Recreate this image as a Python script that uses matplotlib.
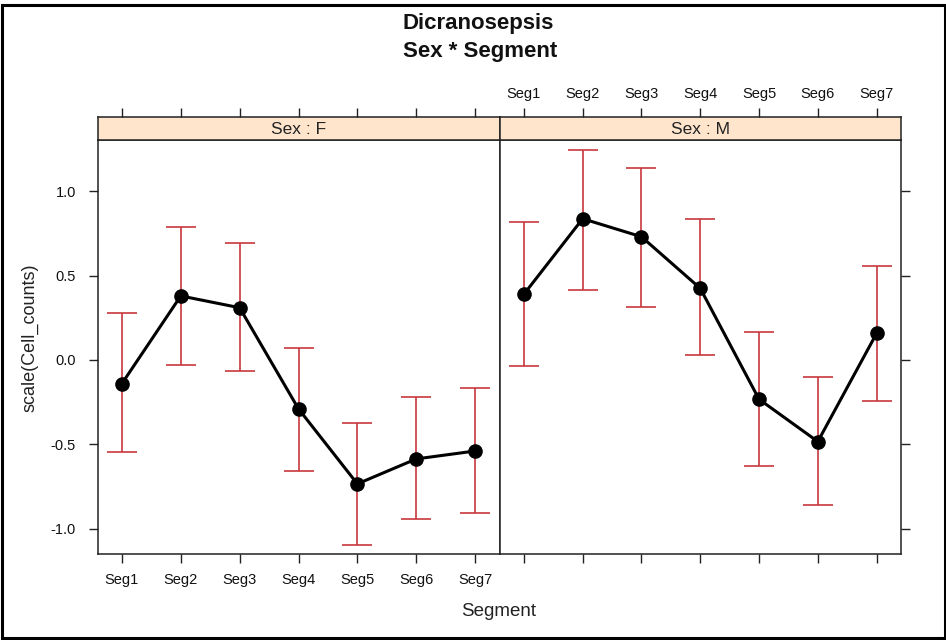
import matplotlib
matplotlib.use('Agg')
import matplotlib.pyplot as plt
from matplotlib.patches import Rectangle

plt.rcParams['font.family'] = ['Liberation Sans', 'DejaVu Sans']

# effect estimates with lower / upper confidence limits, per sex
segments = ['Seg1', 'Seg2', 'Seg3', 'Seg4', 'Seg5', 'Seg6', 'Seg7']
fit_F = [-0.14, 0.38, 0.31, -0.29, -0.735, -0.587, -0.54]
lower_F = [-0.548, -0.03, -0.063, -0.658, -1.097, -0.945, -0.909]
upper_F = [0.279, 0.787, 0.696, 0.073, -0.372, -0.221, -0.166]
fit_M = [0.39, 0.838, 0.731, 0.425, -0.233, -0.484, 0.158]
lower_M = [-0.038, 0.417, 0.314, 0.028, -0.631, -0.862, -0.241]
upper_M = [0.817, 1.244, 1.141, 0.834, 0.166, -0.103, 0.556]
yticks = [-1.0, -0.5, 0.0, 0.5, 1.0]

W, H = 946, 640
fig = plt.figure(figsize=(W / 100, H / 100), dpi=100)


def px_axes(x0, y0, x1, y1):
    return fig.add_axes([x0 / W, 1 - y1 / H, (x1 - x0) / W, (y1 - y0) / H])


AX_COL = '#222222'
CI_COL = '#C8373C'
xpos = list(range(1, len(segments) + 1))
XLIM = (0.585, 7.415)
YLIM = (-1.151, 1.305)

panels = [
    ('F', fit_F, lower_F, upper_F, 97.5, 499.5),
    ('M', fit_M, lower_M, upper_M, 499.5, 901),
]

for i, (sex, fit, lo, hi, x0, x1) in enumerate(panels):
    ax = px_axes(x0, 140, x1, 554)
    err = [[f - l for f, l in zip(fit, lo)], [h - f for f, h in zip(fit, hi)]]
    ax.errorbar(xpos, fit, yerr=err, fmt='none', ecolor=CI_COL,
                elinewidth=1.2, capsize=10.5, capthick=1.2, zorder=2)
    ax.plot(xpos, fit, color='black', lw=2.2, marker='o', ms=9.5, zorder=3)
    ax.set_xlim(*XLIM)
    ax.set_ylim(*YLIM)
    ax.set_xticks(xpos)
    ax.set_yticks(yticks)
    for s in ax.spines.values():
        s.set_color(AX_COL)
        s.set_linewidth(1.1)
    ax.tick_params(direction='out', length=6.5, width=1, color=AX_COL,
                   labelsize=10.5, pad=7, labelcolor='#111111')
    if i == 0:
        ax.set_xticklabels(segments)
        ax.set_yticklabels([f'{v:.1f}' for v in yticks])
        ax.tick_params(axis='y', left=True, right=False, pad=9)
    else:
        ax.set_xticklabels([])
        ax.yaxis.tick_right()
        ax.set_yticklabels([])

    # strip with the panel label and the top tick marks
    st = px_axes(x0, 117, x1, 140)
    st.add_patch(Rectangle((0, 0), 1, 1, transform=st.transAxes,
                           facecolor='#FFE5CC', edgecolor='none'))
    st.set_xlim(*XLIM)
    st.set_ylim(0, 1)
    st.set_yticks([])
    st.xaxis.tick_top()
    st.set_xticks(xpos)
    st.tick_params(direction='out', length=6.5, width=1, color=AX_COL,
                   labelsize=10.5, pad=5, labelcolor='#111111')
    st.set_xticklabels(segments if i == 1 else [])
    for s in st.spines.values():
        s.set_color(AX_COL)
        s.set_linewidth(1.1)
    st.text(0.5, 0.45, f'Sex : {sex}', transform=st.transAxes,
            ha='center', va='center', fontsize=12.5, color='#222222')

fig.text(478 / W, 1 - 24 / H, 'Dicranosepsis', ha='center', va='center',
         fontsize=16, fontweight='bold', color='#111111')
fig.text(480 / W, 1 - 51 / H, 'Sex * Segment', ha='center', va='center',
         fontsize=16, fontweight='bold', color='#111111')
fig.text(499 / W, 1 - 612 / H, 'Segment', ha='center', va='center',
         fontsize=13.5, color='#222222')
fig.text(30 / W, 1 - 338 / H, 'scale(Cell_counts)', ha='center',
         va='center', rotation=90, fontsize=13, color='#222222')

# outer frame
fig.add_artist(Rectangle((2 / W, 2 / H), (W - 3) / W, (H - 7) / H,
                         transform=fig.transFigure, fill=False,
                         edgecolor='black', linewidth=2.2))

fig.savefig('out.png', dpi=100)
